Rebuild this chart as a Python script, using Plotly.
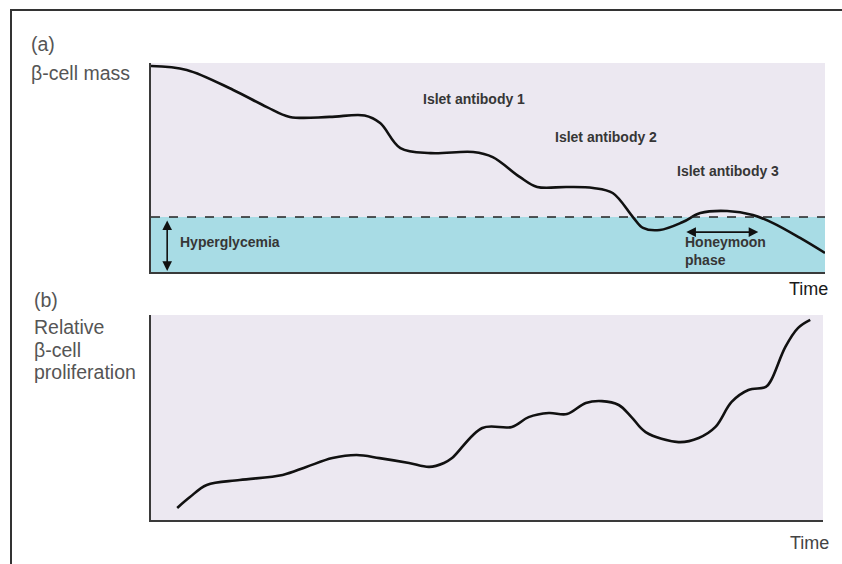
import plotly.graph_objects as go

# Panel (a): beta-cell mass over time (arbitrary units 0-100)
time_a = [0, 5.3, 12.2, 17.2, 20.6, 26.5, 31.7, 34.0, 37.0, 41.5, 47.8, 50.7, 54.7, 57.3,
          61.7, 65.6, 68.5, 71.5, 73.0, 75.5, 78.9, 81.5, 85.5, 89.3, 92.3, 96.3, 100]
mass_a = [98.6, 96.7, 87.1, 78.9, 74.2, 74.2, 74.9, 71.3, 59.3, 56.9, 57.4, 55.0, 45.5, 40.7,
          40.7, 40.2, 37.8, 26.3, 21.1, 20.1, 23.9, 28.2, 29.2, 27.3, 23.4, 16.3, 9.1]
threshold = 26.3

# Panel (b): relative beta-cell proliferation
time_b = [3.9, 5.8, 8.3, 13.2, 19.6, 23.1, 27.0, 30.6, 34.0, 38.4, 41.4, 43.6, 44.8, 49.3,
          53.7, 56.2, 59.2, 61.9, 64.7, 67.1, 69.6, 71.5, 73.6, 78.5, 81.5, 84.0, 86.4,
          88.9, 91.5, 92.3, 94.4, 96.3, 98.1]
prolif_b = [5.9, 11.2, 17.1, 19.5, 22.0, 25.9, 30.2, 31.7, 30.2, 27.8, 25.9, 27.8, 30.2, 44.9,
            45.4, 50.2, 52.2, 51.7, 57.1, 58.0, 56.1, 50.2, 42.9, 38.0, 40.0, 45.4, 57.6,
            63.4, 64.9, 68.3, 84.4, 93.7, 97.6]

antibody_labels = ["Islet antibody 1", "Islet antibody 2", "Islet antibody 3"]
antibody_pos = [(40.0, 83.0), (59.7, 64.5), (77.8, 48.5)]
panel_b_label = ["Relative", "β-cell", "proliferation"]

W, H = 842, 564
LAV = "#ece8f1"
CYAN = "#a8dce5"
AX = "#3a3a3a"

def px(x):
    return x / W

def py(y):
    return 1 - y / H

fig = go.Figure()
fig.add_trace(go.Scatter(x=time_a, y=mass_a, mode="lines", line=dict(color="#111", width=2.6, shape="spline", smoothing=1.0),
                         xaxis="x", yaxis="y", showlegend=False, hoverinfo="skip"))
fig.add_trace(go.Scatter(x=time_b, y=prolif_b, mode="lines", line=dict(color="#111", width=2.6, shape="spline", smoothing=1.0),
                         xaxis="x2", yaxis="y2", showlegend=False, hoverinfo="skip"))

axcommon = dict(showticklabels=False, showgrid=False, zeroline=False, showline=True,
                linecolor=AX, linewidth=2, ticks="", fixedrange=True)
fig.update_layout(
    width=W, height=H, margin=dict(l=0, r=0, t=0, b=0),
    paper_bgcolor="white", plot_bgcolor=LAV,
    xaxis=dict(domain=[px(151), px(825)], range=[0, 100], anchor="y", **axcommon),
    yaxis=dict(domain=[py(272), py(63)], range=[0, 100], anchor="x", **axcommon),
    xaxis2=dict(domain=[px(151), px(823)], range=[0, 100], anchor="y2", **axcommon),
    yaxis2=dict(domain=[py(520), py(315)], range=[0, 100], anchor="x2", **axcommon),
    font=dict(family="Liberation Sans, Arial, sans-serif"),
)

# hyperglycemia region & threshold
fig.add_shape(type="rect", xref="x", yref="y", x0=0, x1=100, y0=0, y1=threshold,
              fillcolor=CYAN, line=dict(width=0), layer="below")
fig.add_shape(type="line", xref="x", yref="y", x0=0, x1=100, y0=threshold, y1=threshold,
              line=dict(color="#222", width=1.6, dash="dash"))

# outer frame
fig.add_shape(type="line", xref="paper", yref="paper", x0=px(10), x1=1, y0=py(10), y1=py(10),
              line=dict(color="#333", width=2))
fig.add_shape(type="line", xref="paper", yref="paper", x0=px(11), x1=px(11), y0=py(10), y1=0,
              line=dict(color="#333", width=2))

labfont = dict(size=19.5, color="#555")
fig.add_annotation(xref="paper", yref="paper", x=px(29), y=py(44), text="(a)", showarrow=False,
                   xanchor="left", yanchor="middle", font=labfont)
fig.add_annotation(xref="paper", yref="paper", x=px(29), y=py(73), text="β-cell mass", showarrow=False,
                   xanchor="left", yanchor="middle", font=labfont)
fig.add_annotation(xref="paper", yref="paper", x=px(32), y=py(300), text="(b)", showarrow=False,
                   xanchor="left", yanchor="middle", font=labfont)
for i, line in enumerate(panel_b_label):
    fig.add_annotation(xref="paper", yref="paper", x=px(32), y=py(327 + 22.5 * i), text=line,
                       showarrow=False, xanchor="left", yanchor="middle", font=labfont)

fig.add_annotation(xref="paper", yref="paper", x=px(830), y=py(289), text="Time", showarrow=False,
                   xanchor="right", yanchor="middle", font=dict(size=18, color="#1a1a1a"))
fig.add_annotation(xref="paper", yref="paper", x=px(831), y=py(543), text="Time", showarrow=False,
                   xanchor="right", yanchor="middle", font=dict(size=18, color="#444"))

inner = dict(size=14, color="#363636", family="Liberation Sans, Arial, sans-serif")
for lab, (tx, ty) in zip(antibody_labels, antibody_pos):
    fig.add_annotation(xref="x", yref="y", x=tx, y=ty, text="<b>" + lab + "</b>", showarrow=False,
                       xanchor="left", yanchor="middle", font=inner)

fig.add_annotation(xref="x", yref="y", x=4.0, y=14.2, text="<b>Hyperglycemia</b>", showarrow=False,
                   xanchor="left", yanchor="middle", font=inner)
fig.add_annotation(xref="x", yref="y", x=79.0, y=10.0, text="<b>Honeymoon<br>phase</b>", showarrow=False,
                   xanchor="left", yanchor="middle", align="left", font=inner)

# double-headed arrows
fig.add_annotation(xref="x", yref="y", axref="x", ayref="y", x=2.4, y=0.5, ax=2.4, ay=25.4,
                   text="", showarrow=True, arrowhead=2, startarrowhead=2, arrowside="end+start",
                   arrowsize=1.2, startarrowsize=1.2, arrowwidth=1.6, arrowcolor="#111")
fig.add_annotation(xref="x", yref="y", axref="x", ayref="y", x=90.1, y=19.1, ax=79.2, ay=19.1,
                   text="", showarrow=True, arrowhead=2, startarrowhead=2, arrowside="end+start",
                   arrowsize=1.2, startarrowsize=1.2, arrowwidth=1.6, arrowcolor="#111")

fig.write_html("out.html", config={"displayModeBar": False},
               post_script="document.body.style.margin='0';document.body.style.padding='0';")
